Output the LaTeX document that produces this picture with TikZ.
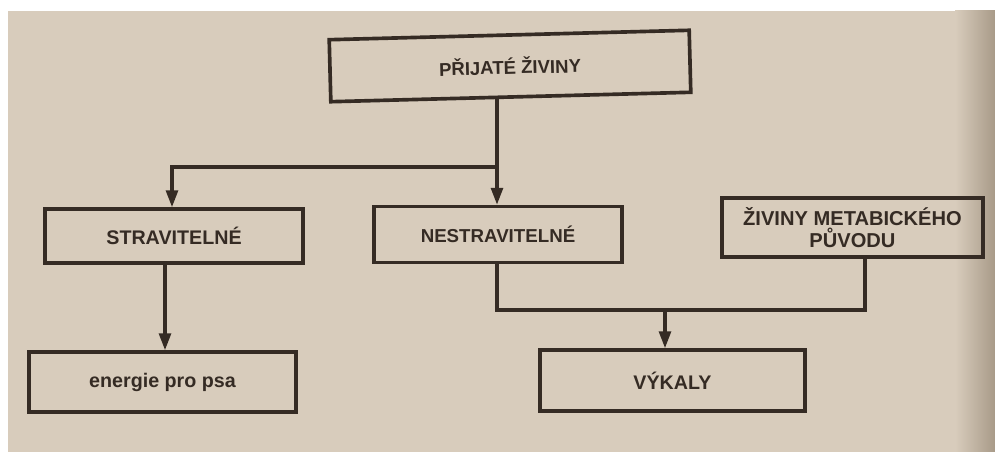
\documentclass[tikz,border=0pt]{standalone}
\usepackage{fontspec}
\setmainfont{Liberation Sans}
\usetikzlibrary{arrows.meta}
\definecolor{paper}{HTML}{D8CCBC}
\definecolor{paperdark}{HTML}{A89A88}
\definecolor{ink}{HTML}{352B24}
\tikzset{
  box/.style={draw=ink, line width=2.6pt, inner sep=0pt, align=center,
    text=ink, font=\fontsize{14}{16}\selectfont\bfseries},
  conn/.style={draw=ink, line width=2.2pt},
  arr/.style={conn, -{Triangle[length=12pt, width=8.5pt]}}
}
\begin{document}
\begin{tikzpicture}[x=0.025cm, y=-0.025cm]
% page
\fill[white] (0,0) rectangle (995,452);
\useasboundingbox (0,0) rectangle (995,452);
\fill[paper] (8,11) rectangle (995,452);
\shade[left color=paper, right color=paperdark] (955,11) rectangle (995,452);
% boxes
\node[box, minimum width=9cm, minimum height=1.55cm, rotate=1.5,
      font=\fontsize{13.2}{15}\selectfont\bfseries] (top) at (510,66) {PŘIJATÉ ŽIVINY};
\node[box, minimum width=6.45cm, minimum height=1.35cm] (str) at (174,236) {STRAVITELNÉ};
\node[box, minimum width=6.2cm, minimum height=1.4cm,
      font=\fontsize{13.3}{15}\selectfont\bfseries] (nes) at (498,234.5) {NESTRAVITELNÉ};
\node[box, minimum width=6.525cm, minimum height=1.475cm,
      font=\fontsize{14.3}{15.5}\selectfont\bfseries] (met) at (852.5,227.5) {ŽIVINY METABICKÉHO\\PŮVODU};
\node[box, minimum width=6.675cm, minimum height=1.5cm] (en) at (162.5,382) {energie pro psa};
\node[box, minimum width=6.625cm, minimum height=1.525cm] (vyk) at (672.5,380.5) {VÝKALY};
% junction coordinates
\coordinate (j1) at (497,167);
\coordinate (j2) at (172,167);
\coordinate (s1) at (165,300);
\coordinate (n1) at (497,310);
\coordinate (m1) at (865,310);
\coordinate (v1) at (665,310);
% connectors
\draw[arr] (j1 |- top.south) -- (j1 |- nes.north);
\draw[arr] (j1) -- (j2) -- (j2 |- str.north);
\draw[arr] (s1 |- str.south) -- (s1 |- en.north);
\draw[conn] (n1 |- nes.south) -- (n1) -- (m1) -- (m1 |- met.south);
\draw[arr] (v1) -- (v1 |- vyk.north);
\end{tikzpicture}
\end{document}
